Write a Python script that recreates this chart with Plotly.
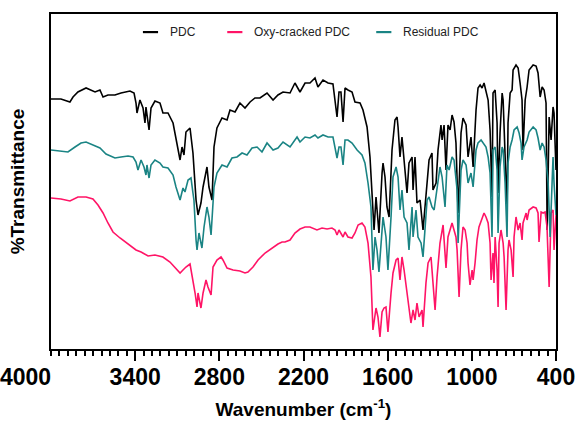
import plotly.graph_objects as go

# FTIR spectra, wavenumber (cm-1) vs. transmittance (offset, arbitrary units)
wn_pdc = [4000, 3929, 3865, 3843, 3808, 3750, 3686, 3651, 3629, 3594, 3544, 3501, 3437, 3408,
          3394, 3387, 3366, 3344, 3330, 3323, 3301, 3287, 3259, 3223, 3202, 3166, 3130, 3109,
          3080, 3066, 3052, 3038, 3009, 2988, 2966, 2952, 2931, 2916, 2888, 2874, 2852, 2838,
          2817, 2781, 2745, 2724, 2688, 2653, 2617, 2581, 2546, 2510, 2460, 2417, 2382, 2346,
          2296, 2261, 2225, 2189, 2154, 2118, 2097, 2061, 2025, 1990, 1961, 1947, 1933, 1918,
          1904, 1883, 1854, 1833, 1797, 1776, 1747, 1726, 1705, 1697, 1683, 1669, 1662, 1640,
          1633, 1619, 1605, 1590, 1569, 1548, 1533, 1526, 1512, 1498, 1483, 1462, 1448, 1426,
          1419, 1405, 1391, 1369, 1348, 1319, 1305, 1284, 1277, 1255, 1241, 1220, 1212, 1198,
          1184, 1170, 1155, 1141, 1127, 1113, 1098, 1077, 1063, 1041, 1027, 1006, 991, 970,
          956, 941, 927, 913, 899, 884, 870, 856, 849, 834, 820, 813, 799, 784, 777, 763, 749,
          742, 727, 713, 706, 685, 670, 656, 642, 635, 620, 606, 592, 563, 542, 528, 513, 499,
          485, 471, 463, 449, 435, 421, 414, 400]
t_pdc = [250, 250, 247, 252, 257, 261, 257, 259, 252, 254, 254, 256, 258, 256,
         246, 236, 249, 241, 226, 242, 219, 241, 248, 246, 236, 236, 226, 209,
         189, 202, 194, 217, 221, 196, 149, 134, 146, 162, 182, 162, 149, 202,
         221, 231, 229, 239, 237, 246, 241, 247, 251, 251, 256, 249, 254, 257,
         256, 266, 257, 266, 266, 271, 262, 269, 266, 265, 232, 257, 257, 227,
         261, 259, 257, 247, 246, 239, 222, 192, 132, 119, 152, 132, 116, 176,
         186, 172, 142, 132, 199, 229, 232, 222, 192, 212, 189, 156, 186, 192,
         159, 192, 146, 149, 119, 172, 189, 196, 159, 166, 199, 224, 209, 224,
         179, 224, 219, 234, 227, 206, 136, 216, 231, 224, 192, 212, 182, 239,
         261, 264, 261, 266, 256, 249, 219, 152, 256, 259, 226, 156, 216, 256, 249, 189, 139,
         226, 256, 259, 279, 284, 281, 266, 249, 199, 249, 262, 279, 284, 283, 276, 252, 262,
         259, 246, 119, 232, 209, 242, 236, 179]

wn_oxy = [4000, 3929, 3865, 3808, 3750, 3701, 3665, 3629, 3594, 3558, 3508, 3451, 3394, 3358,
          3308, 3259, 3202, 3152, 3109, 3080, 3059, 3038, 3009, 2988, 2973, 2959, 2952, 2931,
          2916, 2895, 2881, 2859, 2845, 2817, 2788, 2774, 2745, 2702, 2653, 2617, 2596, 2560,
          2524, 2474, 2424, 2382, 2353, 2332, 2296, 2261, 2225, 2189, 2154, 2104, 2068, 2032,
          1997, 1975, 1961, 1947, 1918, 1904, 1883, 1854, 1833, 1811, 1783, 1762, 1740, 1719,
          1705, 1683, 1669, 1655, 1640, 1626, 1612, 1598, 1576, 1562, 1540, 1526, 1512, 1498,
          1483, 1462, 1448, 1434, 1419, 1405, 1391, 1376, 1355, 1348, 1327, 1312, 1291, 1277,
          1262, 1248, 1227, 1205, 1184, 1170, 1155, 1141, 1127, 1113, 1105, 1091, 1077, 1063,
          1048, 1034, 1027, 1013, 998, 991, 977, 963, 949, 927, 913, 899, 884, 870, 863, 849,
          842, 834, 820, 813, 806, 792, 777, 770, 756, 742, 735, 720, 706, 699, 685, 670, 656,
          642, 635, 613, 606, 592, 563, 542, 528, 521, 506, 492, 478, 464, 449, 435, 421, 414, 400]
t_oxy = [151, 150, 148, 152, 152, 150, 144, 136, 126, 117, 111, 105, 99, 97,
         93, 94, 92, 87, 81, 76, 79, 82, 85, 69, 56, 42, 56, 41,
         56, 69, 62, 54, 82, 89, 92, 89, 81, 79, 78, 76, 77, 82,
         89, 96, 101, 105, 107, 107, 109, 116, 120, 122, 122, 119, 121, 120,
         121, 119, 114, 119, 112, 117, 112, 111, 116, 124, 126, 122, 106, 72,
         19, 41, 32, 12, 37, 41, 42, 17, 56, 76, 89, 91, 69, 92,
         79, 56, 39, 26, 39, 29, 46, 32, 39, 22, 66, 86, 92, 66,
         39, 72, 106, 124, 81, 112, 119, 126, 119, 112, 99, 52, 99, 122,
         119, 106, 86, 64, 79, 69, 86, 109, 122, 131, 136, 132, 126, 106, 69, 96,
         66, 112, 79, 42, 106, 119, 106, 92, 39, 99, 109, 99, 72, 112, 132, 119, 126,
         109, 126, 136, 129, 139, 142, 141, 136, 107, 137, 136, 137, 122, 62, 136, 139, 99, 134]

wn_res = [4000, 3929, 3879, 3829, 3786, 3750, 3701, 3651, 3608, 3544, 3501, 3451, 3415, 3394,
          3380, 3358, 3337, 3323, 3316, 3301, 3287, 3259, 3223, 3202, 3166, 3130, 3109, 3080,
          3059, 3045, 3023, 3002, 2988, 2981, 2966, 2959, 2945, 2924, 2909, 2888, 2874, 2859,
          2838, 2817, 2781, 2745, 2710, 2674, 2638, 2603, 2567, 2531, 2496, 2460, 2417, 2382,
          2346, 2296, 2246, 2225, 2189, 2154, 2118, 2097, 2061, 2025, 1990, 1961, 1947, 1933,
          1918, 1904, 1883, 1854, 1818, 1783, 1762, 1740, 1719, 1705, 1690, 1676, 1662, 1640,
          1633, 1612, 1598, 1576, 1562, 1540, 1526, 1512, 1498, 1483, 1462, 1448, 1426, 1419,
          1398, 1384, 1362, 1348, 1319, 1305, 1284, 1269, 1248, 1227, 1212, 1191, 1177, 1162,
          1141, 1127, 1105, 1098, 1077, 1063, 1041, 1027, 1006, 991, 970, 956, 934, 920, 899,
          884, 870, 856, 849, 834, 820, 813, 799, 784, 777, 763, 749, 742, 727, 713, 699, 677,
          663, 649, 642, 628, 606, 592, 563, 542, 528, 513, 499, 485, 471, 456, 442, 428, 421,
          414, 400]
t_res = [199, 198, 197, 202, 206, 207, 204, 201, 195, 191, 192, 193, 192, 187,
         179, 189, 182, 174, 184, 171, 184, 189, 186, 182, 181, 174, 162, 149,
         161, 157, 169, 171, 156, 149, 109, 99, 116, 101, 122, 142, 132, 114,
         162, 176, 184, 182, 191, 192, 196, 194, 201, 202, 197, 206, 199, 201,
         207, 202, 212, 207, 212, 211, 214, 211, 214, 212, 212, 191, 202, 202,
         184, 209, 209, 206, 199, 194, 186, 166, 142, 79, 112, 99, 77, 126,
         132, 112, 79, 132, 172, 182, 172, 139, 159, 132, 126, 99, 142, 112,
         139, 112, 106, 92, 149, 152, 142, 139, 159, 182, 172, 142, 184, 179,
         192, 189, 159, 106, 179, 189, 184, 166, 176, 162, 199, 206, 209, 206, 202,
         192, 176, 112, 199, 202, 179, 116, 182, 202, 199, 166, 112, 186, 202, 209, 219, 222,
         216, 206, 189, 202, 209, 217, 222, 219, 211, 199, 206, 202, 189, 166, 112, 166, 192,
         166, 134]

series = [
    ("PDC", wn_pdc, t_pdc, "#000000"),
    ("Oxy-cracked PDC", wn_oxy, t_oxy, "#FF1466"),
    ("Residual PDC", wn_res, t_res, "#1A8484"),
]

fig = go.Figure()
for name, wn, t, color in series:
    fig.add_trace(go.Scatter(x=wn, y=t, mode="lines", name=name,
                             line=dict(color=color, width=1.6), showlegend=False))

# Legend row drawn along the top of the frame
legend_pos = [(0.182, 0.232), (0.349, 0.398), (0.644, 0.694)]
for (name, _, _, color), (x0, xt) in zip(series, legend_pos):
    fig.add_shape(type="line", xref="paper", yref="paper",
                  x0=x0, x1=x0 + 0.030, y0=0.946, y1=0.946,
                  line=dict(color=color, width=2.2))
    fig.add_annotation(x=xt, y=0.946, xref="paper", yref="paper", text=name,
                       showarrow=False, xanchor="left", yanchor="middle",
                       font=dict(family="Arial", size=12, color="#222222"))

tick_vals = [3400, 2800, 2200, 1600, 1000, 400]
tick_text = ["3400", "2800", "2200", "1600", "1000", "400"]
# first label sits flush right against the axis corner
fig.add_annotation(x=0, y=0, xref="paper", yref="paper", text="<b>4000</b>",
                   showarrow=False, xanchor="right", yanchor="top", xshift=1, yshift=-14,
                   borderpad=0, font=dict(family="Arial", size=23, color="black"))

fig.update_layout(
    width=577, height=422,
    margin=dict(l=51, r=21, t=14, b=73),
    plot_bgcolor="white", paper_bgcolor="white",
    font=dict(family="Arial", color="black"),
    xaxis=dict(
        range=[4000, 400], tickvals=tick_vals, ticktext=tick_text, automargin=False,
        ticks="outside", ticklen=10, tickwidth=2, tickcolor="black", ticklabelstandoff=-4,
        minor=dict(dtick=60, tick0=400, ticks="outside", ticklen=5, tickwidth=1.5, tickcolor="black"),
        showline=True, linewidth=2, linecolor="black", mirror=True,
        showgrid=False, zeroline=False,
        tickfont=dict(family="Arial", size=23, color="black", weight="bold"),
        title=dict(text="Wavenumber (cm<sup>-1</sup>)", standoff=14,
                   font=dict(family="Arial", size=19, color="black", weight="bold")),
    ),
    yaxis=dict(
        range=[0, 335], showticklabels=False, ticks="", automargin=False,
        showline=True, linewidth=2, linecolor="black", mirror=True,
        showgrid=False, zeroline=False,
        title=dict(text="%Transmittance", standoff=19,
                   font=dict(family="Arial", size=19, color="black", weight="bold")),
    ),
)

fig.write_html("out.html")
